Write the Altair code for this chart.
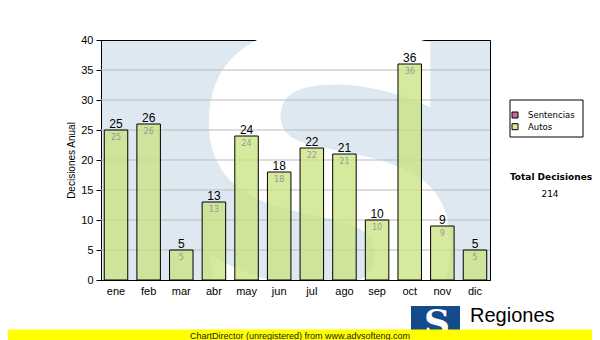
import altair as alt
import pandas as pd

months = ["ene", "feb", "mar", "abr", "may", "jun", "jul", "ago", "sep", "oct", "nov", "dic"]
autos = [25, 26, 5, 13, 24, 18, 22, 21, 10, 36, 9, 5]
series_names = ["Sentencias", "Autos"]
series_colors = ["#cc66aa", "#d4ea96"]
y_ticks = [0, 5, 10, 15, 20, 25, 30, 35, 40]
grid_values = [5, 10, 15, 20, 25, 30, 35]
y_title = "Decisiones Anual"
total_title = "Total Decisiones"
total_value = str(sum(autos))
watermark_text = "S"
logo_text = "Regiones"
footer_text = "ChartDirector (unregistered) from www.advsofteng.com"

W, H = 389, 240
df = pd.DataFrame({"mes": months, "autos": autos})
one = pd.DataFrame({"k": [0]})

x_enc = alt.X(
    "mes:N", sort=months,
    scale=alt.Scale(paddingInner=0.28, paddingOuter=0.1),
    axis=alt.Axis(title=None, labelAngle=0, ticks=False, labelFont="Liberation Sans",
                  labelFontSize=11, labelColor="black", labelPadding=5, domainColor="black"),
)
y_scale = alt.Scale(domain=[0, 40], nice=False)
y_enc = alt.Y(
    "autos:Q", scale=y_scale,
    axis=alt.Axis(values=y_ticks, grid=False, title=y_title, titleFont="Liberation Sans",
                  titleFontSize=10, titleFontWeight="normal", titleColor="black",
                  titleX=-30, titleY=120, titleAngle=270, titleAlign="center",
                  titleBaseline="middle", labelFont="Liberation Sans", labelFontSize=11,
                  labelColor="black", labelPadding=3, tickSize=5, tickColor="black",
                  domainColor="black"),
)

wm = alt.Chart(one).mark_text(
    text=watermark_text, font="DejaVu Sans", fontWeight="bold", fontSize=420,
    color="white", align="center", baseline="alphabetic", clip=True,
).encode(x=alt.value(229), y=alt.value(299))

grid = alt.Chart(pd.DataFrame({"autos": grid_values})).mark_rule(
    color="#bbbbbb", strokeWidth=1
).encode(y=y_enc, x=alt.value(0), x2=alt.value(W))

bars = alt.Chart(df).mark_bar(
    fill="#c8e37c", fillOpacity=0.75, stroke="black", strokeWidth=1
).encode(x=x_enc, y=y_enc)

top = alt.Chart(df).mark_text(
    font="Liberation Sans", fontSize=12, color="black", baseline="alphabetic", dy=-2
).encode(x=x_enc, y=y_enc, text="autos:Q")

inner = alt.Chart(df).mark_text(
    font="DejaVu Sans", fontSize=8, color="#999999", baseline="alphabetic", dy=10
).encode(x=x_enc, y=y_enc, text="autos:Q")

layers = [wm, grid, bars, top, inner]

# legend box
layers.append(alt.Chart(one).mark_rect(fill="white", stroke="black", strokeWidth=1).encode(
    x=alt.value(409), x2=alt.value(482), y=alt.value(60), y2=alt.value(97)))
for i, (name, col) in enumerate(zip(series_names, series_colors)):
    yy = 72 + i * 11.7
    layers.append(alt.Chart(one).mark_rect(fill=col, stroke="black", strokeWidth=1).encode(
        x=alt.value(411), x2=alt.value(417), y=alt.value(yy), y2=alt.value(yy + 6)))
    layers.append(alt.Chart(one).mark_text(
        text=name, font="DejaVu Sans", fontSize=8.5, color="black", align="left",
        baseline="middle").encode(x=alt.value(427), y=alt.value(yy + 3)))

layers.append(alt.Chart(one).mark_text(
    text=total_title, font="DejaVu Sans", fontWeight="bold", fontSize=9, color="black",
    align="center", baseline="middle").encode(x=alt.value(450), y=alt.value(137)))
layers.append(alt.Chart(one).mark_text(
    text=total_value, font="DejaVu Sans", fontSize=9, color="black",
    align="center", baseline="middle").encode(x=alt.value(449), y=alt.value(154)))

# logo
layers.append(alt.Chart(one).mark_rect(fill="#154a8c").encode(
    x=alt.value(310), x2=alt.value(359), y=alt.value(266), y2=alt.value(292)))
layers.append(alt.Chart(one).mark_text(
    text=watermark_text, font="DejaVu Serif", fontWeight="bold", fontSize=36, color="white",
    align="center", baseline="alphabetic").encode(x=alt.value(336), y=alt.value(295)))
layers.append(alt.Chart(one).mark_text(
    text=logo_text, font="Liberation Sans", fontSize=20, color="black",
    align="left", baseline="alphabetic").encode(x=alt.value(369), y=alt.value(282)))

# footer strip
layers.append(alt.Chart(one).mark_rect(fill="#ffff00").encode(
    x=alt.value(-101), x2=alt.value(499), y=alt.value(289.5), y2=alt.value(300)))
layers.append(alt.Chart(one).mark_text(
    text=footer_text, font="Liberation Sans", fontSize=9, color="#222222",
    align="left", baseline="middle").encode(x=alt.value(89), y=alt.value(295.5)))

chart = alt.layer(*layers).properties(
    width=W, height=H,
    padding={"left": 93, "top": 32, "right": 102, "bottom": 60},
    autosize=alt.AutoSizeParams(type="none"),
    background="white",
).configure_view(fill="#dde8f1", stroke="black", strokeWidth=1)

chart.save("out.html", embed_options={"renderer": "svg", "actions": False})
